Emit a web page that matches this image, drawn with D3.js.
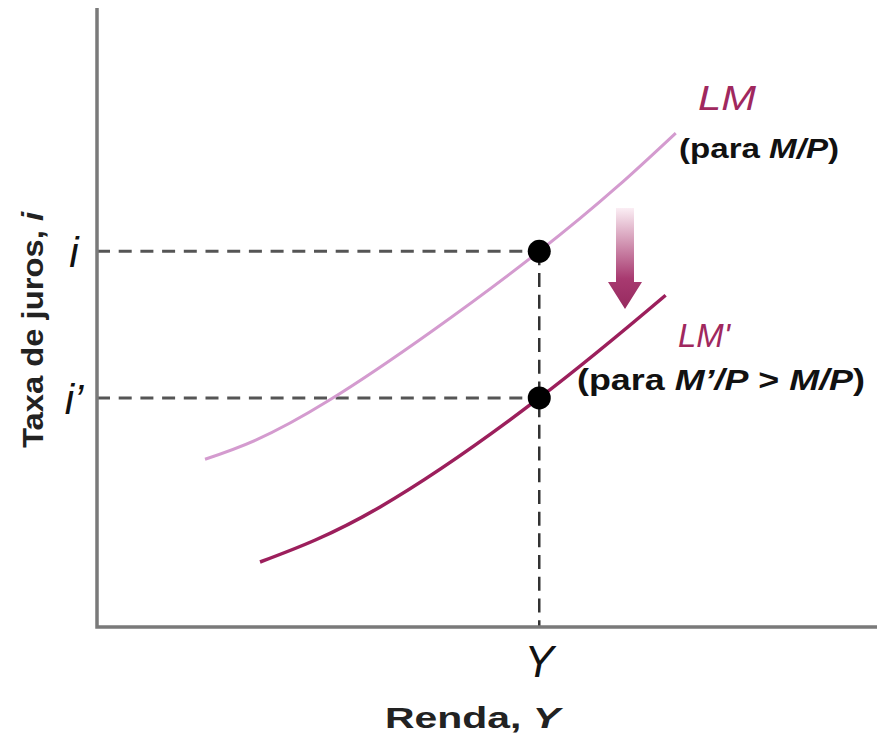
<!DOCTYPE html>
<html lang="pt">
<head>
  <meta charset="UTF-8" />
  <title>LM shift</title>
  <script src="https://d3js.org/d3.v7.min.js"></script>
  <style>
    body { margin: 0; background: #fff; overflow: hidden; }
    svg { display: block; font-family: "Liberation Sans", Arial, sans-serif; }
  </style>
</head>
<body>
<svg id="chart" width="877" height="734"></svg>
<script>
// curve points (arbitrary 0-100 units)
const lmX = [13.85, 29.6, 56.7, 74.2];
const lmY = [27.1, 36.5, 60.7, 79.8];
const lm2X = [20.9, 36.3, 56.7, 72.9];
const lm2Y = [10.5, 19.4, 37.0, 53.6];

// equilibrium values
const Yeq = 56.7;
const iLevels = [60.7, 37.0];
const iLabels = ["i", "i\u2019"];

const width = 877, height = 734;
const svg = d3.select("#chart");

const x = d3.scaleLinear().domain([0, 100]).range([97, 877]);
const y = d3.scaleLinear().domain([0, 100]).range([627, 8]);

const lineColor = "#d49bcf";
const line2Color = "#9c1f5c";
const labelColor = "#a0285e";

// dashed guides
svg.selectAll(".hguide")
  .data(iLevels)
  .enter().append("line")
  .attr("x1", x(0)).attr("x2", x(Yeq))
  .attr("y1", d => y(d)).attr("y2", d => y(d))
  .attr("stroke", "#555").attr("stroke-width", 3)
  .attr("stroke-dasharray", "13 8.7");

svg.append("line")
  .attr("x1", x(Yeq)).attr("x2", x(Yeq))
  .attr("y1", y(iLevels[0])).attr("y2", y(0))
  .attr("stroke", "#333").attr("stroke-width", 2.5)
  .attr("stroke-dasharray", "14 7.7");

// axes
svg.append("path")
  .attr("d", `M${x(0)},${y(100)} V${y(0)} H${x(100)}`)
  .attr("fill", "none").attr("stroke", "#7a7a7a").attr("stroke-width", 3.5);

const line = d3.line()
  .x(d => x(d[0])).y(d => y(d[1]))
  .curve(d3.curveNatural);

svg.append("path")
  .datum(d3.zip(lmX, lmY))
  .attr("d", line)
  .attr("fill", "none").attr("stroke", lineColor).attr("stroke-width", 3);

svg.append("path")
  .datum(d3.zip(lm2X, lm2Y))
  .attr("d", line)
  .attr("fill", "none").attr("stroke", line2Color).attr("stroke-width", 3.5);

// equilibrium dots
svg.selectAll(".dot")
  .data(iLevels)
  .enter().append("circle")
  .attr("cx", x(Yeq)).attr("cy", d => y(d)).attr("r", 11.5)
  .attr("fill", "#000");

// shift arrow
const grad = svg.append("defs").append("linearGradient")
  .attr("id", "arrowGrad").attr("x1", 0).attr("x2", 0).attr("y1", 0).attr("y2", 1);
grad.append("stop").attr("offset", "0%").attr("stop-color", "#fbeef4");
grad.append("stop").attr("offset", "70%").attr("stop-color", "#a83a70");
grad.append("stop").attr("offset", "100%").attr("stop-color", "#962a5f");

const ax = 625, aTop = 208, aHead = 282, aTip = 309;
svg.append("path")
  .attr("d", `M${ax - 9},${aTop} H${ax + 9} V${aHead} H${ax + 17} L${ax},${aTip} L${ax - 17},${aHead} H${ax - 9} Z`)
  .attr("fill", "url(#arrowGrad)");

// tick labels
svg.selectAll(".ilabel")
  .data(iLevels)
  .enter().append("text")
  .attr("x", 74).attr("y", d => y(d) + 16)
  .attr("text-anchor", "middle")
  .attr("font-size", 42).attr("font-style", "italic")
  .attr("fill", "#111")
  .text((d, k) => iLabels[k]);

svg.append("text")
  .attr("x", x(Yeq)).attr("y", 677)
  .attr("text-anchor", "middle")
  .attr("font-size", 44).attr("font-style", "italic")
  .attr("fill", "#111")
  .text("Y");

// axis titles
const xTitle = svg.append("text")
  .attr("x", 385).attr("y", 728)
  .attr("font-size", 30).attr("font-weight", "bold").attr("fill", "#222")
  .attr("textLength", 175).attr("lengthAdjust", "spacingAndGlyphs");
xTitle.append("tspan").text("Renda, ");
xTitle.append("tspan").attr("font-style", "italic").text("Y");

const yTitle = svg.append("text")
  .attr("transform", "translate(43,330) rotate(-90)")
  .attr("text-anchor", "middle")
  .attr("font-size", 30).attr("font-weight", "bold").attr("fill", "#222")
  .attr("textLength", 236).attr("lengthAdjust", "spacingAndGlyphs");
yTitle.append("tspan").text("Taxa de juros, ");
yTitle.append("tspan").attr("font-style", "italic").text("i");

// curve labels
svg.append("text")
  .attr("x", 698).attr("y", 110)
  .attr("font-size", 35).attr("font-style", "italic").attr("fill", labelColor)
  .attr("textLength", 58).attr("lengthAdjust", "spacingAndGlyphs")
  .text("LM");

const sub1 = svg.append("text")
  .attr("x", 679).attr("y", 158)
  .attr("font-size", 28).attr("font-weight", "bold").attr("fill", "#111")
  .attr("textLength", 160).attr("lengthAdjust", "spacingAndGlyphs");
sub1.append("tspan").text("(para ");
sub1.append("tspan").attr("font-style", "italic").text("M/P");
sub1.append("tspan").text(")");

svg.append("text")
  .attr("x", 678).attr("y", 347)
  .attr("font-size", 34).attr("font-style", "italic").attr("fill", labelColor)
  .attr("textLength", 52).attr("lengthAdjust", "spacingAndGlyphs")
  .text("LM'");

const sub2 = svg.append("text")
  .attr("x", 577).attr("y", 390)
  .attr("font-size", 29).attr("font-weight", "bold").attr("fill", "#111")
  .attr("textLength", 288).attr("lengthAdjust", "spacingAndGlyphs");
sub2.append("tspan").text("(para ");
sub2.append("tspan").attr("font-style", "italic").text("M\u2019/P");
sub2.append("tspan").text(" > ");
sub2.append("tspan").attr("font-style", "italic").text("M/P");
sub2.append("tspan").text(")");
</script>
</body>
</html>
